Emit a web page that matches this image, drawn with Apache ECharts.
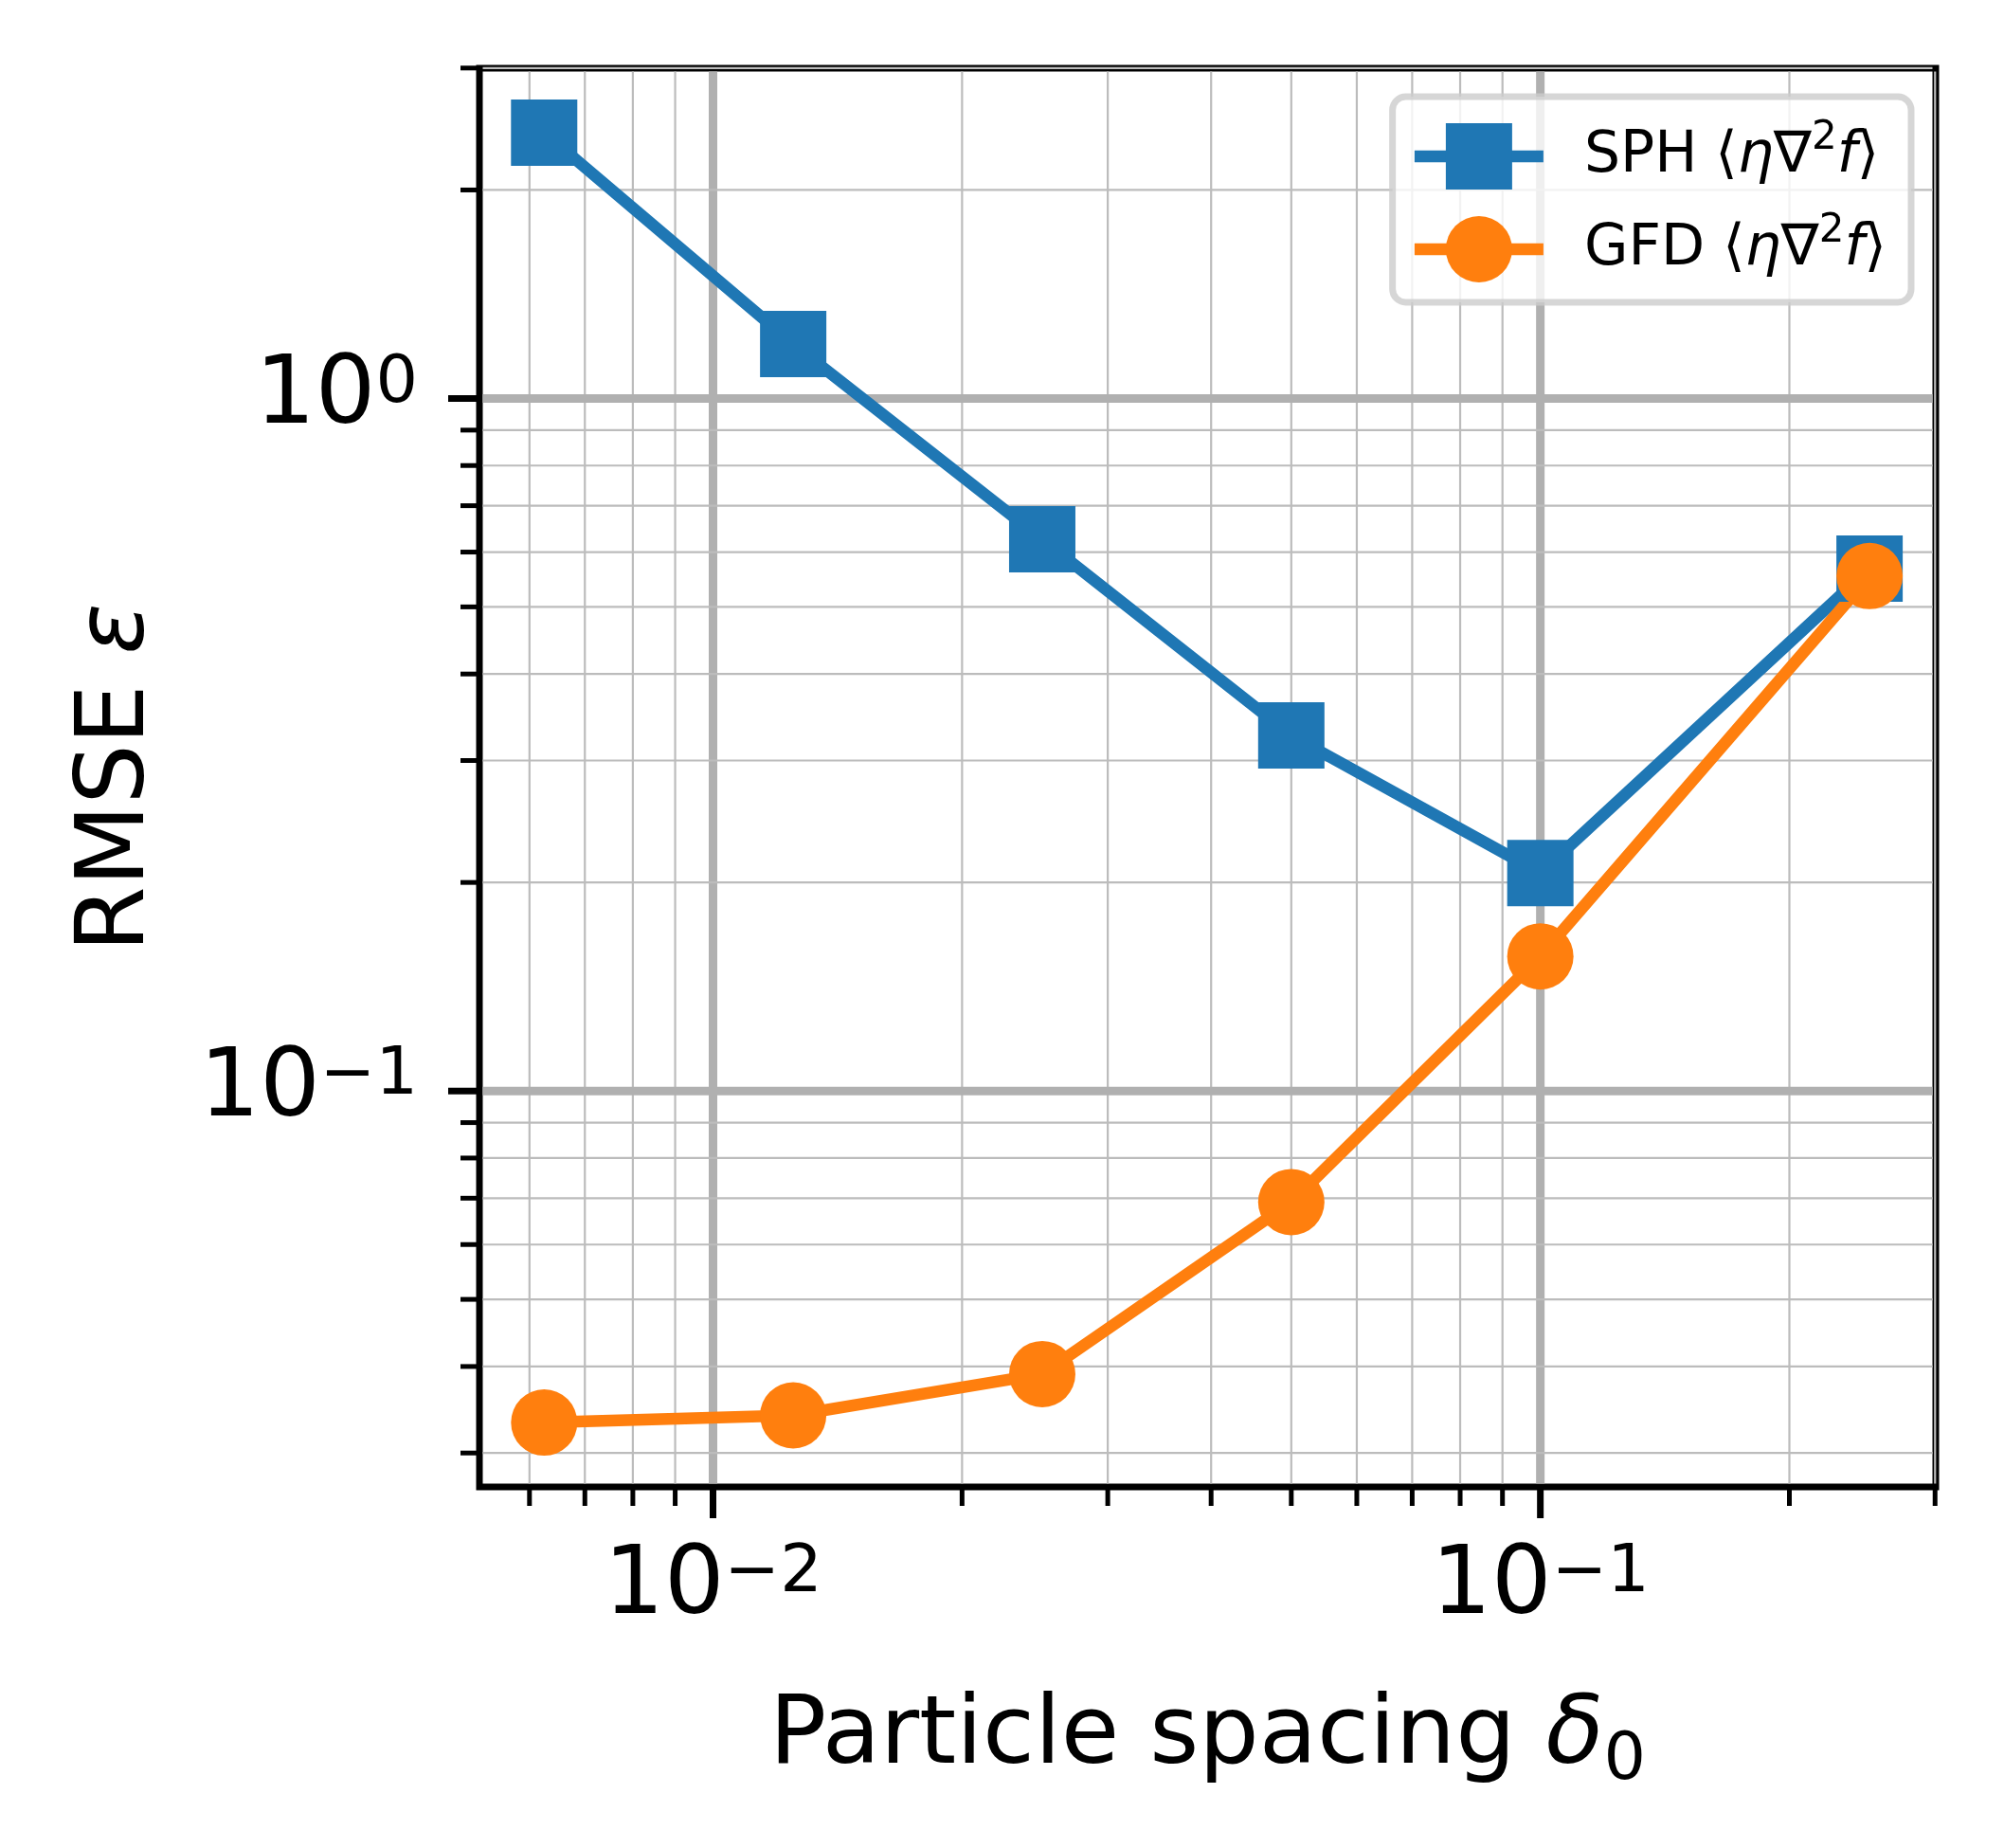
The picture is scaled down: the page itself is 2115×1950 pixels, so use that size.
<!DOCTYPE html>
<html>
<head>
<meta charset="utf-8">
<script src="https://cdn.jsdelivr.net/npm/echarts@6/dist/echarts.min.js"></script>
<style>
html,body{margin:0;padding:0;background:#fff;}
#chart{width:2115px;height:1950px;}
</style>
</head>
<body>
<div id="chart"></div>
<script>
// ---- data ----
const xValues = [0.00625, 0.0125, 0.025, 0.05, 0.1, 0.25];
const sphValues = [2.42, 1.198, 0.626, 0.326, 0.2064, 0.568];
const gfdValues = [0.0332, 0.0340, 0.0390, 0.0691, 0.1564, 0.554];
const seriesNames = ['SPH', 'GFD'];
const xMajorTicks = [0.01, 0.1];
const xMinorTicks = [0.006, 0.007, 0.008, 0.009, 0.02, 0.03, 0.04, 0.05, 0.06, 0.07, 0.08, 0.09, 0.2, 0.3];
const yMajorTicks = [0.1, 1];
const yMinorTicks = [0.03, 0.04, 0.05, 0.06, 0.07, 0.08, 0.09, 0.2, 0.3, 0.4, 0.5, 0.6, 0.7, 0.8, 0.9, 2, 3];
const X_MIN = 0.00522, X_MAX = 0.3006;
const Y_MIN = 0.0268, Y_MAX = 2.998;

const FONT = 'DejaVu Sans';
const chart = echarts.init(document.getElementById('chart'), null, {renderer: 'canvas'});

function powLabel(v) {
  const e = Math.round(Math.log10(v));
  if (Math.abs(Math.log10(v) - e) > 1e-6) return '';
  return '{b|10}{s|' + (e < 0 ? '\u2212' + (-e) : e) + '}';
}
const tickRich = {
  b: {fontFamily: FONT, fontSize: 100, color: '#000', lineHeight: 100, verticalAlign: 'middle'},
  s: {fontFamily: FONT, fontSize: 70, color: '#000', lineHeight: 70, padding: [0, 0, 70, 0], verticalAlign: 'top'}
};

function gridTicks(axis, values, major) {
  return {
    type: 'custom', name: '_' + axis + (major ? 'M' : 'm'), silent: true, clip: false,
    animation: false, z: 1,
    data: values.map(v => axis === 'x' ? [v, 1] : [0.05, v]),
    renderItem: function (params, api) {
      const gw = major ? 9 : 2.2, tw = major ? 7 : 5, tl = major ? 33 : 20;
      const gc = major ? '#b0b0b0' : '#bcbcbc';
      if (axis === 'x') {
        const v = api.value(0);
        const a = api.coord([v, Y_MAX]);
        const b = api.coord([v, Y_MIN]);
        return {type: 'group', children: [
          {type: 'line', shape: {x1: a[0], y1: a[1] + 3.5, x2: b[0], y2: b[1] - 3.5}, style: {stroke: gc, lineWidth: gw}},
          {type: 'line', shape: {x1: b[0], y1: b[1], x2: b[0], y2: b[1] + tl}, style: {stroke: '#000', lineWidth: tw}}
        ]};
      } else {
        const v = api.value(1);
        const a = api.coord([X_MIN, v]);
        const b = api.coord([X_MAX, v]);
        return {type: 'group', children: [
          {type: 'line', shape: {x1: a[0] + 3.5, y1: a[1], x2: b[0] - 3.5, y2: b[1]}, style: {stroke: gc, lineWidth: gw}},
          {type: 'line', shape: {x1: a[0], y1: a[1], x2: a[0] - tl, y2: a[1]}, style: {stroke: '#000', lineWidth: tw}}
        ]};
      }
    }
  };
}

const legendRich = {
  p: {fontFamily: FONT, fontSize: 60, color: '#000', padding: [0, 0, 0, 38], lineHeight: 80, verticalAlign: 'middle'},
  m: {fontFamily: FONT, fontSize: 60, color: '#000', lineHeight: 80, verticalAlign: 'middle'},
  i: {fontFamily: FONT, fontSize: 60, fontStyle: 'italic', color: '#000', lineHeight: 80, verticalAlign: 'middle'},
  s: {fontFamily: FONT, fontSize: 42, color: '#000', lineHeight: 42, padding: [0, 0, 38, 0], verticalAlign: 'top'}
};

const option = {
  backgroundColor: '#fff',
  animation: false,
  grid: {left: 506, top: 72, right: 72, bottom: 381, show: true, borderColor: '#000', borderWidth: 7, backgroundColor: 'transparent'},
  legend: {
    data: seriesNames,
    orient: 'vertical',
    right: 98, top: 102,
    backgroundColor: 'rgba(255,255,255,0.8)',
    borderColor: 'rgba(204,204,204,0.8)',
    borderWidth: 7,
    borderRadius: 14,
    padding: [23, 26, 16, 17],
    itemWidth: 136, itemHeight: 87.5, itemGap: 18,
    lineStyle: {width: 12.5},
    textStyle: {fontFamily: FONT, fontSize: 60, color: '#000', rich: legendRich},
    formatter: name => '{p|' + name + '}{m| \u27E8}{i|\u03B7}{m|\u2207}{s|2}{i|f}{m|\u27E9}',
    selectedMode: false
  },
  xAxis: {
    type: 'log', logBase: 10, min: X_MIN, max: X_MAX,
    axisLine: {show: false}, axisTick: {show: false}, splitLine: {show: false}, minorTick: {show: false}, minorSplitLine: {show: false},
    axisLabel: {showMinLabel: false, showMaxLabel: false, margin: 57, formatter: powLabel, rich: tickRich},
    name: '{n|Particle spacing }{i|\u03B4}{u|0}',
    nameLocation: 'middle', nameGap: 205,
    nameTextStyle: {rich: {
      n: {fontFamily: FONT, fontSize: 100, color: '#000', lineHeight: 120, verticalAlign: 'middle'},
      i: {fontFamily: FONT, fontSize: 100, fontStyle: 'italic', color: '#000', lineHeight: 120, verticalAlign: 'middle'},
      u: {fontFamily: FONT, fontSize: 70, color: '#000', lineHeight: 70, padding: [30, 0, 0, 0], verticalAlign: 'bottom'}
    }}
  },
  yAxis: {
    type: 'log', logBase: 10, min: Y_MIN, max: Y_MAX,
    axisLine: {show: false}, axisTick: {show: false}, splitLine: {show: false}, minorTick: {show: false}, minorSplitLine: {show: false},
    axisLabel: {showMinLabel: false, showMaxLabel: false, margin: 65, formatter: powLabel, rich: tickRich},
    name: '{n|RMSE }{i|\u03B5}',
    nameLocation: 'middle', nameGap: 321, nameRotate: 90,
    nameTextStyle: {rich: {
      n: {fontFamily: FONT, fontSize: 100, color: '#000', lineHeight: 120},
      i: {fontFamily: FONT, fontSize: 100, fontStyle: 'italic', color: '#000', lineHeight: 120}
    }}
  },
  series: [
    gridTicks('x', xMinorTicks, false),
    gridTicks('x', xMajorTicks, true),
    gridTicks('y', yMinorTicks, false),
    gridTicks('y', yMajorTicks, true),
    {
      name: seriesNames[0], type: 'line', z: 2,
      data: xValues.map((x, i) => [x, sphValues[i]]),
      symbol: 'rect', symbolSize: 70,
      lineStyle: {color: '#1f77b4', width: 12.5},
      itemStyle: {color: '#1f77b4', borderWidth: 0},
      emphasis: {disabled: true}
    },
    {
      name: seriesNames[1], type: 'line', z: 2,
      data: xValues.map((x, i) => [x, gfdValues[i]]),
      symbol: 'circle', symbolSize: 70,
      lineStyle: {color: '#ff7f0e', width: 12.5},
      itemStyle: {color: '#ff7f0e', borderWidth: 0},
      emphasis: {disabled: true}
    }
  ]
};
chart.setOption(option);
</script>
</body>
</html>
